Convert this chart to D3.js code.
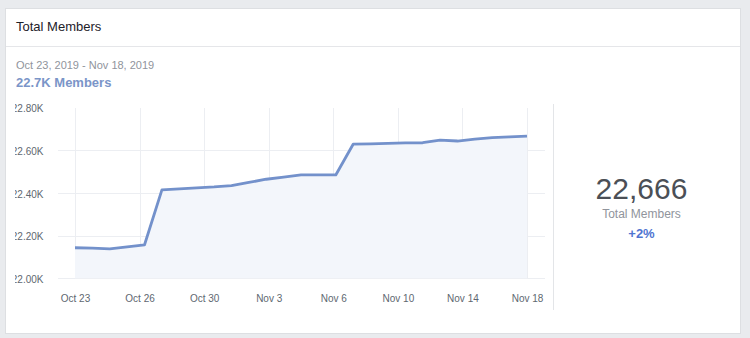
<!DOCTYPE html>
<html>
<head>
<meta charset="utf-8">
<script src="https://cdn.jsdelivr.net/npm/d3@7"></script>
<style>
  html, body { margin: 0; padding: 0; background: #e9ebee; }
  svg { display: block; font-family: Arial, "Liberation Sans", Helvetica, sans-serif; }
</style>
</head>
<body>
<svg id="chart" width="750" height="338"></svg>
<script>
// Daily member counts, Oct 23 – Nov 18, 2019
const days = ["Oct 23","Oct 24","Oct 25","Oct 26","Oct 27","Oct 28","Oct 29","Oct 30","Oct 31",
  "Nov 1","Nov 2","Nov 3","Nov 4","Nov 5","Nov 6","Nov 7","Nov 8","Nov 9","Nov 10","Nov 11",
  "Nov 12","Nov 13","Nov 14","Nov 15","Nov 16","Nov 17","Nov 18"];
const members = [22143, 22141, 22138, 22147, 22157, 22414, 22419, 22424, 22428,
  22434, 22449, 22464, 22474, 22484, 22484, 22484, 22628, 22630, 22632, 22634,
  22635, 22647, 22643, 22652, 22659, 22662, 22666];
const xTickLabels = ["Oct 23","Oct 26","Oct 30","Nov 3","Nov 6","Nov 10","Nov 14","Nov 18"];
const yTicks = [22000, 22200, 22400, 22600, 22800];

const title = "Total Members";
const rangeText = "Oct 23, 2019 - Nov 18, 2019";
const summaryText = "22.7K Members";
const totalText = "22,666";
const totalLabel = "Total Members";
const changeText = "+2%";

const svg = d3.select("#chart");

// card
svg.append("rect").attr("x", 5.5).attr("y", 8.5).attr("width", 735).attr("height", 325)
  .attr("fill", "#fff").attr("stroke", "#dddfe2");
svg.append("line").attr("x1", 6).attr("x2", 740).attr("y1", 46.5).attr("y2", 46.5)
  .attr("stroke", "#e5e6e9");

svg.append("text").attr("x", 16).attr("y", 31).attr("font-size", 13)
  .attr("fill", "#1d2129").text(title);
svg.append("text").attr("x", 16).attr("y", 69).attr("font-size", 11)
  .attr("fill", "#90949c").text(rangeText);
svg.append("text").attr("x", 16).attr("y", 87).attr("font-size", 13).attr("font-weight", "bold")
  .attr("fill", "#7b95c8").text(summaryText);

// scales
const x = d3.scaleLinear().domain([0, members.length - 1]).range([75, 527]);
const y = d3.scaleLinear().domain([22000, 22800]).range([278.3, 107.5]);
const xTickVals = xTickLabels.map((_, i) => i * (members.length - 1) / (xTickLabels.length - 1));

// grid
const grid = svg.append("g");
grid.selectAll("line.h").data(yTicks.filter(v => v < 22800)).join("line")
  .attr("x1", 58).attr("x2", 545)
  .attr("y1", d => Math.round(y(d)) + 0.5).attr("y2", d => Math.round(y(d)) + 0.5)
  .attr("stroke", "#eceef2");
grid.selectAll("line.v").data(xTickVals).join("line")
  .attr("x1", d => Math.round(x(d)) + 0.5).attr("x2", d => Math.round(x(d)) + 0.5)
  .attr("y1", 108).attr("y2", 278)
  .attr("stroke", "#eceef2");

// y axis labels, clipped at the left edge of the panel
const yAxisX = 43.5;
svg.append("clipPath").attr("id", "yclip").append("rect")
  .attr("x", 15 - yAxisX).attr("y", 90).attr("width", 60).attr("height", 210);
const yAxis = d3.axisLeft(y).tickValues(yTicks).tickSize(0).tickPadding(0)
  .tickFormat(d => (d / 1000).toFixed(2) + "K");
const yg = svg.append("g").attr("transform", `translate(${yAxisX},1)`).call(yAxis);
yg.select(".domain").remove();
yg.selectAll("text").attr("font-size", 10).attr("fill", "#606770")
  .attr("font-family", "Arial, 'Liberation Sans', sans-serif");
yg.attr("clip-path", "url(#yclip)");

// x axis labels
const xAxis = d3.axisBottom(x).tickValues(xTickVals).tickSize(0).tickPadding(0)
  .tickFormat((d, i) => xTickLabels[i]);
const xg = svg.append("g").attr("transform", "translate(0,295)").call(xAxis);
xg.select(".domain").remove();
xg.selectAll("text").attr("font-size", 10).attr("fill", "#606770")
  .attr("font-family", "Arial, 'Liberation Sans', sans-serif");

// area + line
const area = d3.area().x((d, i) => x(i)).y0(y(22000)).y1(d => y(d));
svg.append("path").datum(members).attr("d", area).attr("fill", "#f3f6fb");
const line = d3.line().x((d, i) => x(i)).y(d => y(d));
svg.append("path").datum(members).attr("d", line).attr("fill", "none")
  .attr("stroke", "#7391cb").attr("stroke-width", 2.8).attr("stroke-linejoin", "round");

// divider
svg.append("line").attr("x1", 553.5).attr("x2", 553.5).attr("y1", 104).attr("y2", 310)
  .attr("stroke", "#e3e5e8");

// summary
svg.append("text").attr("x", 641.5).attr("y", 199).attr("text-anchor", "middle")
  .attr("font-size", 30).attr("fill", "#4b4f56").text(totalText);
svg.append("text").attr("x", 641.5).attr("y", 218).attr("text-anchor", "middle")
  .attr("font-size", 12).attr("fill", "#90949c").text(totalLabel);
svg.append("text").attr("x", 641.5).attr("y", 237.5).attr("text-anchor", "middle")
  .attr("font-size", 13).attr("font-weight", "bold").attr("fill", "#4f74d1").text(changeText);
</script>
</body>
</html>
